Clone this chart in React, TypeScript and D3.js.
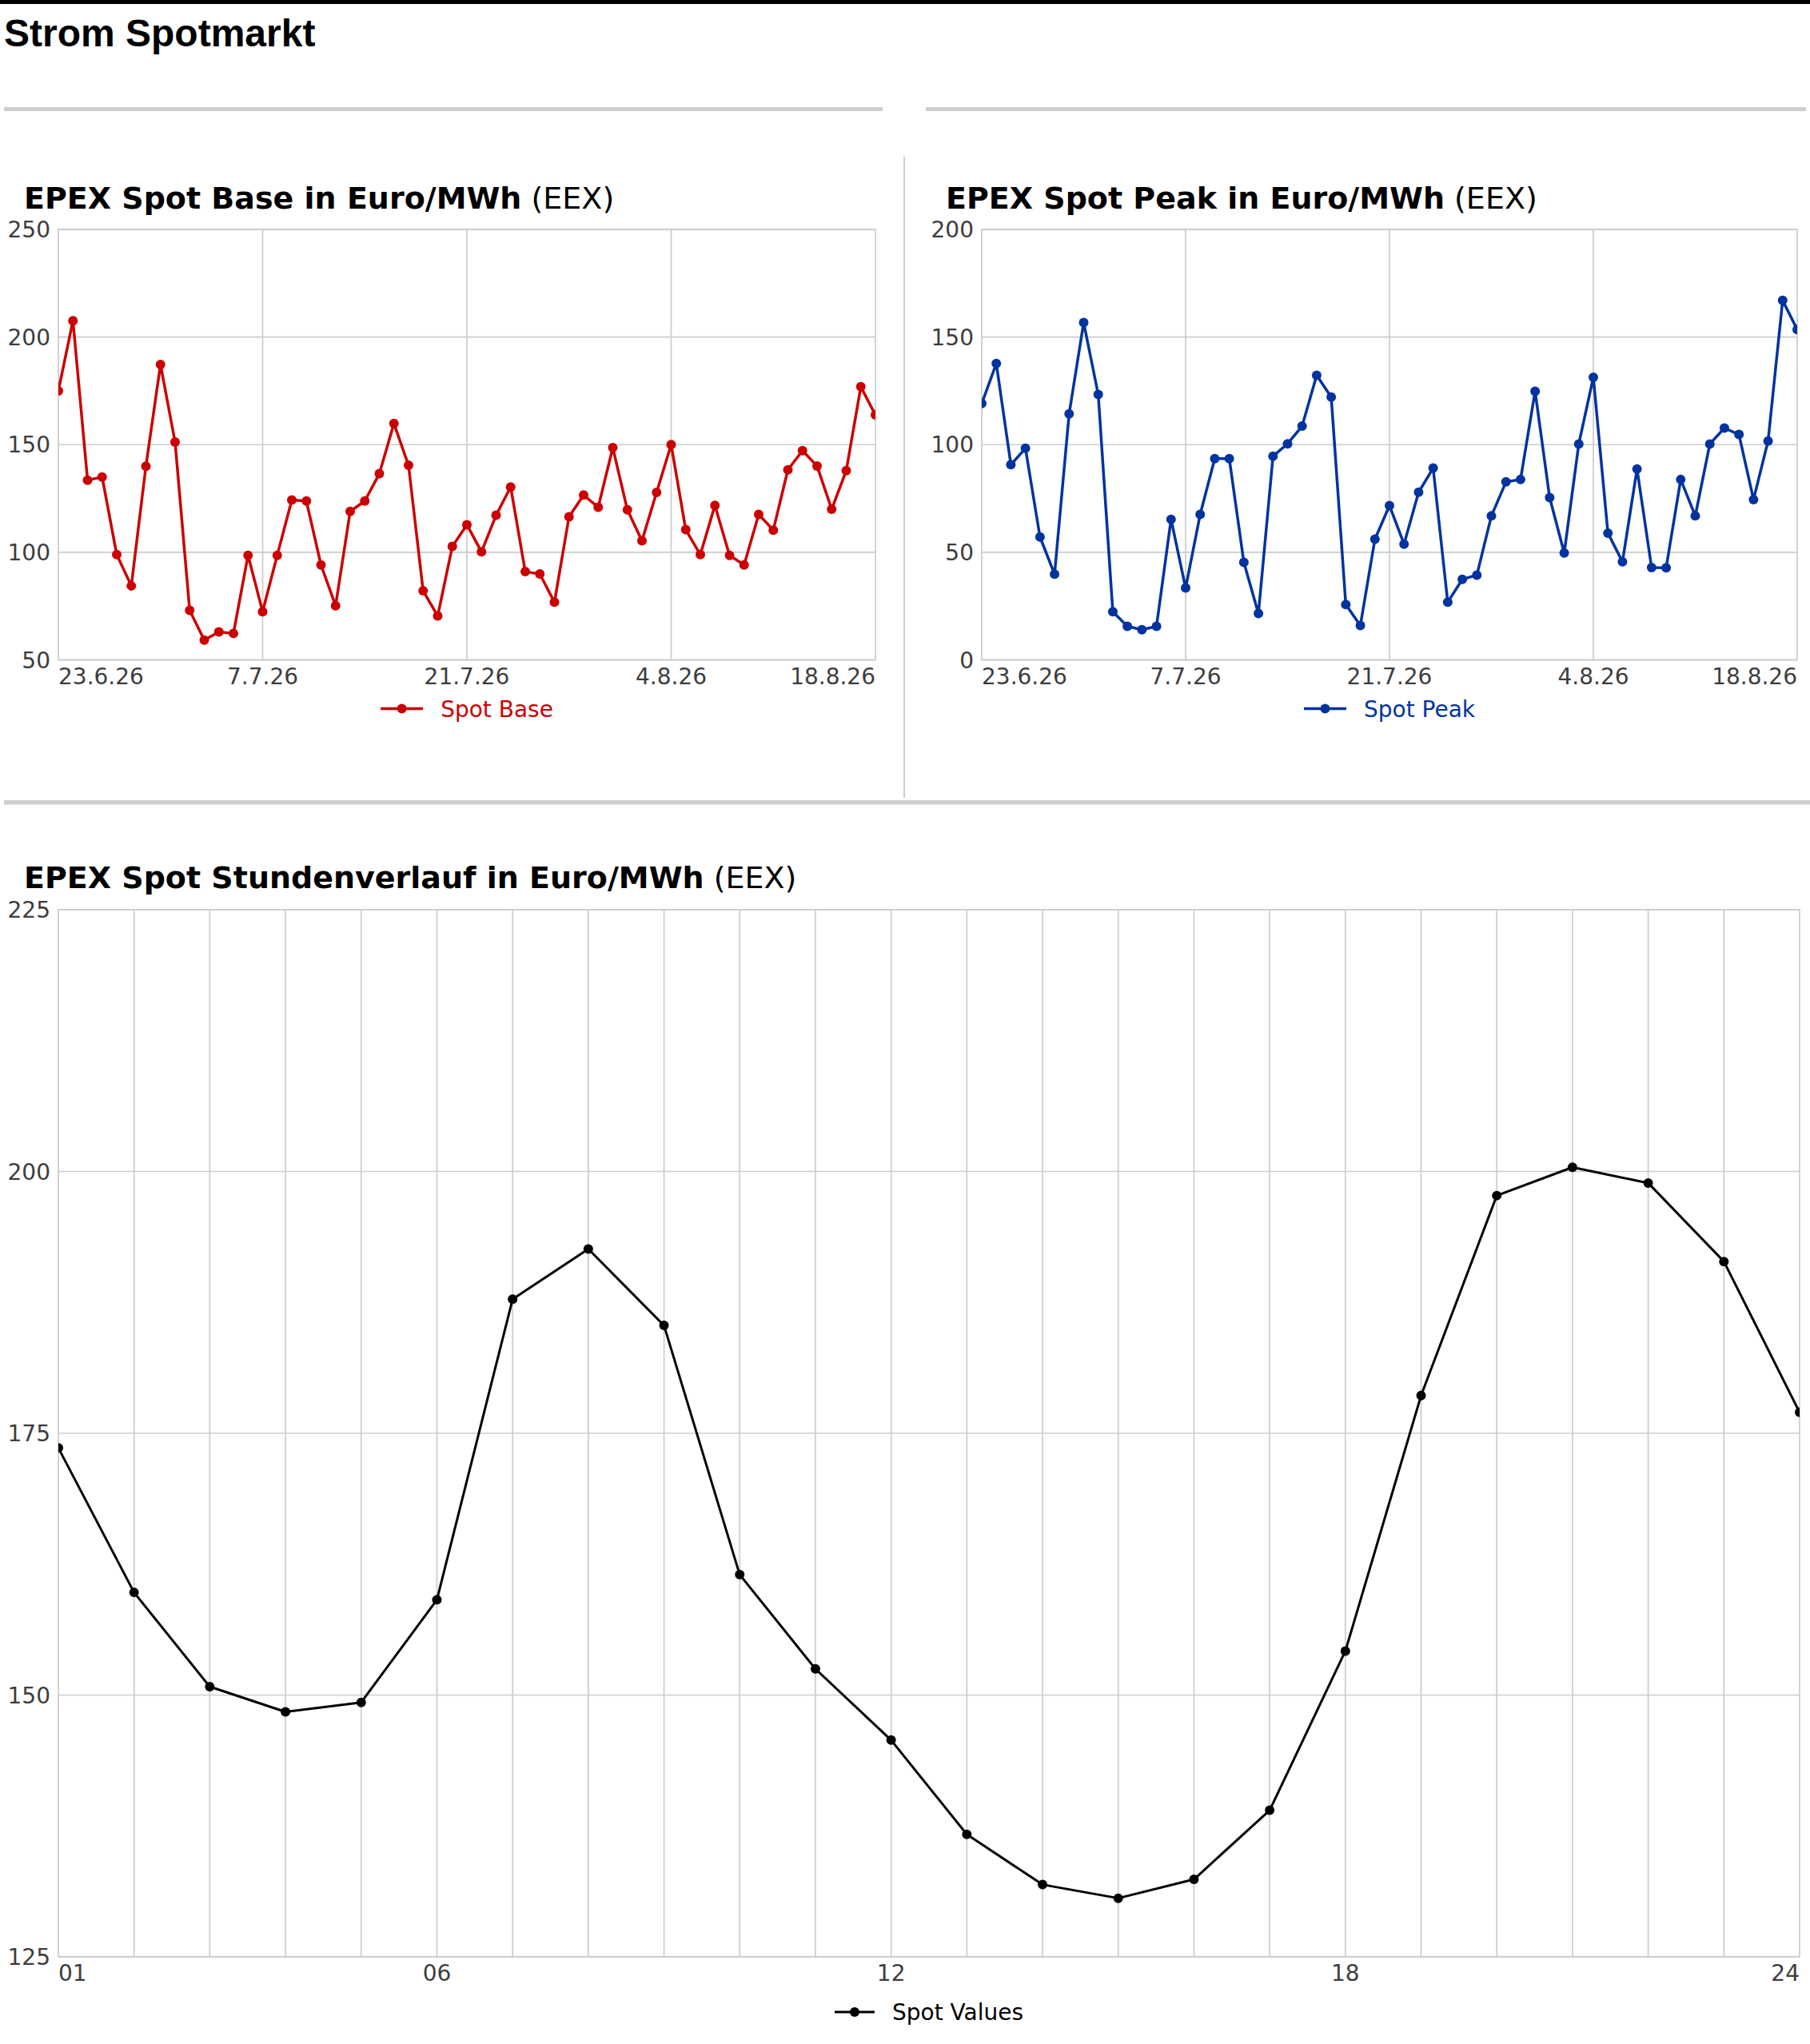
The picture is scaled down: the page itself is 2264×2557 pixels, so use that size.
import { useEffect, useRef } from "react";
import * as d3 from "d3";

const W = 2264;
const H = 2557;

// daily series, first day 23.6.2026
const startDay = new Date(2026, 5, 23);
const baseValues = [
  175, 207.6, 133.5, 135, 98.9, 84.4, 140, 187.2, 151.2, 73, 59.2, 63, 62.3, 98.6, 72.4, 98.6,
  124.3, 123.8, 94.1, 75.2, 119, 123.8, 136.5, 159.8, 140.4, 82.1, 70.4, 102.7, 112.8, 100.2,
  117.2, 130.3, 91, 89.9, 76.8, 116.5, 126.6, 120.9, 148.6, 119.7, 105.3, 127.8, 150, 110.5,
  98.9, 121.8, 98.6, 94.1, 117.6, 110.3, 138.3, 147.2, 140.1, 120, 137.9, 176.9, 163.8,
];
const peakValues = [
  119.1, 137.7, 90.7, 98.3, 57.1, 39.8, 114.3, 156.7, 123.3, 22.4, 15.6, 14, 15.6, 65.3, 33.4,
  67.6, 93.5, 93.5, 45.3, 21.5, 94.6, 100.4, 108.6, 132.2, 122.1, 25.7, 16, 56.1, 71.7, 53.8,
  77.9, 89.1, 26.8, 37.4, 39.4, 66.9, 82.7, 83.8, 124.8, 75.4, 49.7, 100.3, 131.3, 58.9, 45.6,
  88.7, 42.9, 42.8, 83.8, 66.9, 100.3, 107.7, 104.7, 74.5, 101.7, 167, 153.5,
];
const dateTicks = [
  new Date(2026, 5, 23),
  new Date(2026, 6, 7),
  new Date(2026, 6, 21),
  new Date(2026, 7, 4),
  new Date(2026, 7, 18),
];
const baseTicks = [50, 100, 150, 200, 250];
const peakTicks = [0, 50, 100, 150, 200];

// hourly profile
const hours = [1, 2, 3, 4, 5, 6, 7, 8, 9, 10, 11, 12, 13, 14, 15, 16, 17, 18, 19, 20, 21, 22, 23, 24];
const hourValues = [
  173.6, 159.8, 150.8, 148.4, 149.3, 159.1, 187.8, 192.6, 185.3, 161.5, 152.5, 145.7, 136.7,
  131.9, 130.6, 132.4, 139, 154.2, 178.6, 197.7, 200.4, 198.9, 191.4, 177,
];
const hourTicks = [1, 6, 12, 18, 24];
const hourValueTicks = [125, 150, 175, 200, 225];

const FONT = "DejaVu Sans";
const GRID = "#cccccc";
const LABEL = "#3d3d3d";

type Panel = {
  id: string;
  left: number;
  right: number;
  top: number;
  bottom: number;
  title: string;
  titleX: number;
  titleY: number;
  color: string;
  name: string;
  legendY: number;
  lineWidth: number;
  radius: number;
  yDomain: [number, number];
  yTicks: number[];
  xs: any[];
  ys: number[];
  x: (d: any) => number;
  xTicks: any[];
  xGrid: any[];
  xFormat: (d: any) => string;
  symbolWidth: number;
};

function drawPanel(svg: d3.Selection<SVGSVGElement, unknown, null, undefined>, p: Panel) {
  const y = d3.scaleLinear().domain(p.yDomain).range([p.bottom, p.top]);
  const g = svg.append("g");

  // title
  const t = g
    .append("text")
    .attr("x", p.titleX)
    .attr("y", p.titleY)
    .attr("font-family", FONT)
    .attr("font-size", 38)
    .attr("fill", "#000");
  t.append("tspan").attr("font-weight", "bold").text(p.title);
  t.append("tspan").text(" (EEX)");

  // grid
  g.selectAll(".hg")
    .data(p.yTicks)
    .join("line")
    .attr("x1", p.left)
    .attr("x2", p.right)
    .attr("y1", (d) => y(d))
    .attr("y2", (d) => y(d))
    .attr("stroke", GRID)
    .attr("stroke-width", 1.7);
  g.selectAll(".vg")
    .data(p.xGrid)
    .join("line")
    .attr("x1", (d) => p.x(d))
    .attr("x2", (d) => p.x(d))
    .attr("y1", p.top)
    .attr("y2", p.bottom)
    .attr("stroke", GRID)
    .attr("stroke-width", 1.7);
  g.append("rect")
    .attr("x", p.left)
    .attr("y", p.top)
    .attr("width", p.right - p.left)
    .attr("height", p.bottom - p.top)
    .attr("fill", "none")
    .attr("stroke", GRID)
    .attr("stroke-width", 1.7);

  // y labels
  g.selectAll(".yl")
    .data(p.yTicks)
    .join("text")
    .attr("x", p.left - 10)
    .attr("y", (d) => y(d))
    .attr("dy", "0.36em")
    .attr("text-anchor", "end")
    .attr("font-family", FONT)
    .attr("font-size", 28)
    .attr("fill", LABEL)
    .text((d) => d);

  // x labels
  g.selectAll(".xl")
    .data(p.xTicks)
    .join("text")
    .attr("x", (d) => p.x(d))
    .attr("y", p.bottom + 30)
    .attr("text-anchor", (_d, i) => (i === 0 ? "start" : i === p.xTicks.length - 1 ? "end" : "middle"))
    .attr("font-family", FONT)
    .attr("font-size", 28)
    .attr("fill", LABEL)
    .text((d) => p.xFormat(d));

  // series
  svg
    .append("clipPath")
    .attr("id", p.id)
    .append("rect")
    .attr("x", p.left)
    .attr("y", p.top - 20)
    .attr("width", p.right - p.left)
    .attr("height", p.bottom - p.top + 40);
  const s = g.append("g").attr("clip-path", `url(#${p.id})`);
  const pts = p.xs.map((d, i) => [p.x(d), y(p.ys[i])] as [number, number]);
  s.append("path")
    .attr("d", d3.line()(pts))
    .attr("fill", "none")
    .attr("stroke", p.color)
    .attr("stroke-width", p.lineWidth)
    .attr("stroke-linejoin", "round");
  s.selectAll("circle")
    .data(pts)
    .join("circle")
    .attr("cx", (d) => d[0])
    .attr("cy", (d) => d[1])
    .attr("r", p.radius)
    .attr("fill", p.color);

  // legend
  const lg = g.append("g");
  const lt = lg
    .append("text")
    .attr("font-family", FONT)
    .attr("font-size", 28)
    .attr("fill", p.color)
    .attr("dy", "0.36em")
    .text(p.name);
  const tw = (lt.node() as SVGTextElement).getComputedTextLength();
  const gap = 22;
  const total = p.symbolWidth + gap + tw;
  const x0 = (p.left + p.right) / 2 - total / 2;
  lt.attr("x", x0 + p.symbolWidth + gap).attr("y", p.legendY);
  lg.append("line")
    .attr("x1", x0)
    .attr("x2", x0 + p.symbolWidth)
    .attr("y1", p.legendY)
    .attr("y2", p.legendY)
    .attr("stroke", p.color)
    .attr("stroke-width", p.lineWidth);
  lg.append("circle")
    .attr("cx", x0 + p.symbolWidth / 2)
    .attr("cy", p.legendY)
    .attr("r", p.radius)
    .attr("fill", p.color);
}

export default function App() {
  const svgRef = useRef<SVGSVGElement>(null);

  useEffect(() => {
    document.body.style.margin = "0";
    const el = svgRef.current;
    if (!el) return;
    d3.select(el).selectAll("*").remove();
    const svg = d3.select(el);

    // page furniture
    svg.append("rect").attr("x", 0).attr("y", 0).attr("width", W).attr("height", 5).attr("fill", "#000");
    svg
      .append("text")
      .attr("x", 5)
      .attr("y", 58)
      .attr("font-family", "Liberation Sans")
      .attr("font-weight", "bold")
      .attr("font-size", 48)
      .attr("fill", "#000")
      .text("Strom Spotmarkt");
    svg.append("rect").attr("x", 5).attr("y", 134).attr("width", 1099).attr("height", 5).attr("fill", "#cfcfcf");
    svg.append("rect").attr("x", 1158).attr("y", 134).attr("width", 1101).attr("height", 5).attr("fill", "#cfcfcf");
    svg.append("rect").attr("x", 1130).attr("y", 196).attr("width", 2).attr("height", 802).attr("fill", "#cfcfcf");
    svg.append("rect").attr("x", 5).attr("y", 1001).attr("width", W - 5).attr("height", 5.5).attr("fill", "#cfcfcf");

    const dates = baseValues.map((_v, i) => d3.timeDay.offset(startDay, i));
    const fmt = d3.timeFormat("%-d.%-m.%y");

    const xBase = d3.scaleTime().domain([dateTicks[0], dateTicks[dateTicks.length - 1]]).range([73, 1095]);
    drawPanel(svg, {
      id: "clipBase",
      left: 73,
      right: 1095,
      top: 287,
      bottom: 825.5,
      title: "EPEX Spot Base in Euro/MWh",
      titleX: 30,
      titleY: 261,
      color: "#cc0000",
      name: "Spot Base",
      legendY: 886.5,
      lineWidth: 3.5,
      radius: 6,
      yDomain: [50, 250],
      yTicks: baseTicks,
      xs: dates,
      ys: baseValues,
      x: xBase,
      xTicks: dateTicks,
      xGrid: dateTicks.slice(1, -1),
      xFormat: fmt,
      symbolWidth: 53,
    });

    const xPeak = d3.scaleTime().domain([dateTicks[0], dateTicks[dateTicks.length - 1]]).range([1228, 2248]);
    drawPanel(svg, {
      id: "clipPeak",
      left: 1228,
      right: 2248,
      top: 287,
      bottom: 825.5,
      title: "EPEX Spot Peak in Euro/MWh",
      titleX: 1183,
      titleY: 261,
      color: "#0033a0",
      name: "Spot Peak",
      legendY: 886.5,
      lineWidth: 3.5,
      radius: 6,
      yDomain: [0, 200],
      yTicks: peakTicks,
      xs: dates,
      ys: peakValues,
      x: xPeak,
      xTicks: dateTicks,
      xGrid: dateTicks.slice(1, -1),
      xFormat: fmt,
      symbolWidth: 53,
    });

    const xHour = d3.scaleLinear().domain([hours[0], hours[hours.length - 1]]).range([73, 2251]);
    drawPanel(svg, {
      id: "clipHour",
      left: 73,
      right: 2251,
      top: 1138,
      bottom: 2448,
      title: "EPEX Spot Stundenverlauf in Euro/MWh",
      titleX: 30,
      titleY: 1111,
      color: "#000000",
      name: "Spot Values",
      legendY: 2517,
      lineWidth: 3,
      radius: 6,
      yDomain: [125, 225],
      yTicks: hourValueTicks,
      xs: hours,
      ys: hourValues,
      x: xHour,
      xTicks: hourTicks,
      xGrid: hours.slice(1, -1),
      xFormat: (d: number) => d3.format("02d")(d),
      symbolWidth: 50,
    });
  }, []);

  return <svg ref={svgRef} width={W} height={H} style={{ display: "block", background: "#fff" }} />;
}
